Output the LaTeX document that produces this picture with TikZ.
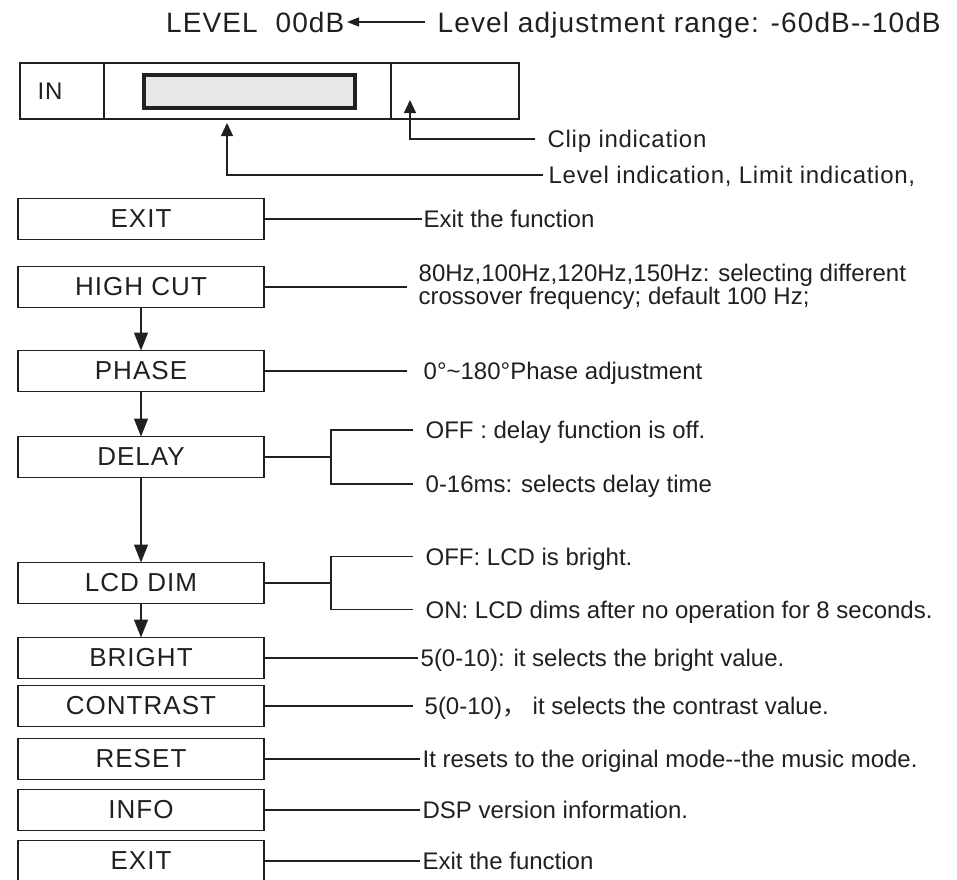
\documentclass[tikz,border=0pt]{standalone}
\usepackage{fontspec}
\setmainfont{Liberation Sans}
\newfontfamily\boxfont[LetterSpace=4]{Liberation Sans}
\newfontfamily\topfont[LetterSpace=4]{Liberation Sans}
\newfontfamily\panelfont[LetterSpace=3]{Liberation Sans}
\newfontfamily\cjk{Noto Sans CJK SC}
\usepackage{tikz}
\usetikzlibrary{positioning, arrows.meta}
\definecolor{ink}{RGB}{35,31,32}
\definecolor{lcdgray}{RGB}{230,231,232}

\begin{document}
\begin{tikzpicture}[
  x=1pt, y=-1pt, line width=1.3pt, color=ink,
  menu/.style={draw, minimum width=246pt, minimum height=41pt, inner sep=0pt, outer sep=0pt, font=\boxfont\fontsize{26}{30}\selectfont},
  cell/.style={draw, minimum height=56pt, inner sep=0pt, outer sep=0pt},
  lcdbar/.style={draw, fill=lcdgray, line width=4pt, minimum width=211pt, minimum height=33pt, inner sep=0pt, outer sep=0pt},
  note/.style={anchor=west, inner sep=0pt, text height=17pt, text depth=0pt, font=\fontsize{24}{20}\selectfont},
  twonote/.style={anchor=west, inner sep=0pt, align=left, font=\fontsize{24}{19}\selectfont},
  panelnote/.style={note, font=\panelfont\fontsize{24}{24}\selectfont},
  topnote/.style={note, text height=20pt, font=\topfont\fontsize{28}{28}\selectfont},
  arrow/.style={-{Triangle[length=18pt, width=14pt]}},
  uparrow/.style={-{Triangle[length=13pt, width=12pt]}},
  toparrow/.style={-{Triangle[length=12pt, width=9pt]}}
]
\useasboundingbox (0,0) rectangle (957,879);

% Level line
\node[topnote, anchor=east] (levelval) at (345,22) {LEVEL\ \ 00dB};
\node[topnote] (levelrange) at (437,22) {Level adjustment range: -60dB{-}{-}10dB};
\draw[toparrow] ([xshift=-12pt]levelrange.west) -- ([xshift=2pt]levelval.east);

% Display panel
\node[cell, minimum width=84pt] (incell) at (62,91) {};
\node[cell, minimum width=287pt, right=0pt of incell] (levelcell) {};
\node[cell, minimum width=128pt, right=0pt of levelcell] (clipcell) {};
\node[panelnote] (intext) at ([xshift=17pt]incell.west) {IN};
\node[lcdbar] (levelbar) at ([xshift=2pt]levelcell.center) {};

\node[panelnote] (clipnote) at (547,139) {Clip indication};
\node[panelnote] (levelnote) at (548,175) {Level indication, Limit indication,};
\draw[uparrow] ([xshift=-12pt]clipnote.west) -| ([xshift=-45pt,yshift=-9pt]clipcell.center);
\draw[uparrow] ([xshift=-5pt]levelnote.west) -| ([xshift=-20.5pt,yshift=-4pt]levelcell.south);

% Menu
\node[menu] (exittop) at (141,219) {EXIT};
\node[menu, below=27pt of exittop] (highcut) {HIGH CUT};
\node[menu, below=43pt of highcut] (phase) {PHASE};
\node[menu, below=45pt of phase] (delay) {DELAY};
\node[menu, below=85pt of delay] (lcddim) {LCD DIM};
\node[menu, below=34pt of lcddim] (bright) {BRIGHT};
\node[menu, below=7pt of bright] (contrast) {CONTRAST};
\node[menu, below=12pt of contrast] (reset) {RESET};
\node[menu, below=10pt of reset] (info) {INFO};
\node[menu, below=10pt of info] (exitbottom) {EXIT};

\draw[arrow] (highcut) -- (phase);
\draw[arrow] (phase) -- (delay);
\draw[arrow] (delay) -- (lcddim);
\draw[arrow] (lcddim) -- (bright);

% Descriptions
\node[note, right=159pt of exittop] (exittopnote) {Exit the function};
\node[twonote, right=154pt of highcut] (highcutnote) {80Hz,100Hz,120Hz,150Hz: selecting different\\crossover frequency; default 100 Hz;};
\node[note, right=159pt of phase] (phasenote) {0°\textasciitilde 180°Phase adjustment};
\node[note, right=161pt of delay, yshift=27pt] (delayoff) {OFF : delay function is off.};
\node[note, right=161pt of delay, yshift=-27pt] (delayon) {0-16ms: selects delay time};
\node[note, right=161pt of lcddim, yshift=26.5pt] (lcdoff) {OFF: LCD is bright.};
\node[note, right=161pt of lcddim, yshift=-26.5pt] (lcdon) {ON: LCD dims after no operation for 8 seconds.};
\node[note, right=156pt of bright] (brightnote) {5(0-10): it selects the bright value.};
\node[note, right=160pt of contrast] (contrastnote) {5(0-10){\cjk ，} it selects the contrast value.};
\node[note, right=158pt of reset] (resetnote) {It resets to the original mode{-}{-}the music mode.};
\node[note, right=158pt of info] (infonote) {DSP version information.};
\node[note, right=158pt of exitbottom] (exitbottomnote) {Exit the function};

\draw (exittop.east) -- ([xshift=-1pt]exittopnote.west);
\draw (highcut.east) -- ([xshift=-11pt]highcutnote.west);
\draw (phase.east) -- ([xshift=-16pt]phasenote.west);
\draw (delay.east) -- ++(67pt,0) coordinate (delayfork);
\draw ([xshift=-12pt]delayoff.west) -| (delayfork) |- ([xshift=-12pt]delayon.west);
\draw (lcddim.east) -- ++(67pt,0) coordinate (lcdfork);
\draw ([xshift=-12pt]lcdoff.west) -| (lcdfork) |- ([xshift=-12pt]lcdon.west);
\draw (bright.east) -- ([xshift=-2pt]brightnote.west);
\draw (contrast.east) -- ([xshift=-11pt]contrastnote.west);
\draw (reset.east) -- ([xshift=-2pt]resetnote.west);
\draw (info.east) -- ([xshift=-2pt]infonote.west);
\draw (exitbottom.east) -- ([xshift=-2pt]exitbottomnote.west);

\end{tikzpicture}
\end{document}
